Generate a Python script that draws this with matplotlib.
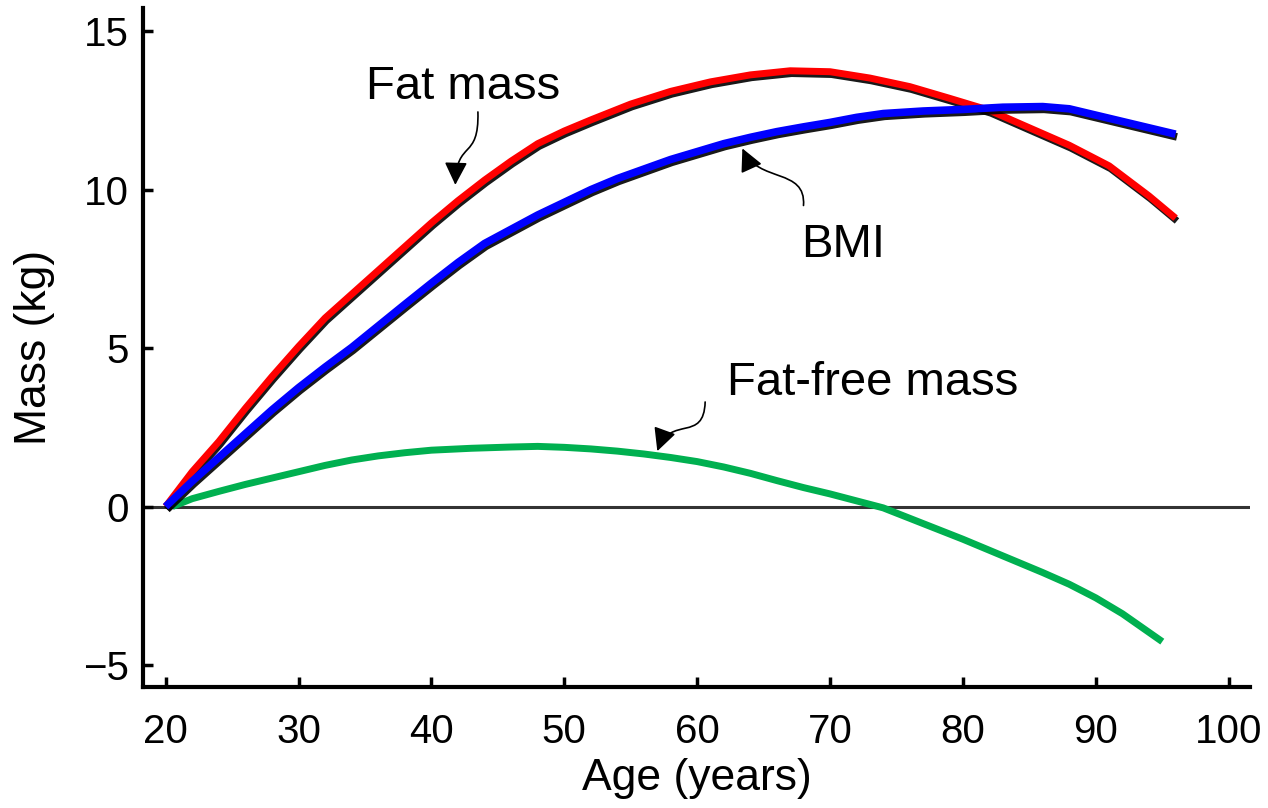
import matplotlib
matplotlib.use("Agg")
import matplotlib.pyplot as plt
import matplotlib.patheffects as pe
from matplotlib.path import Path
from matplotlib.patches import FancyArrowPatch

plt.rcParams['font.family'] = ['Liberation Sans', 'DejaVu Sans']

# curves (age in years, change in mass in kg)
fat_age = [20, 22, 24, 26, 28, 30, 32, 34, 36, 38, 40, 42, 44, 46, 48, 50, 52, 55,
           58, 61, 64, 67, 70, 73, 76, 79, 82, 85, 88, 91, 94, 96]
fat_mass = [0, 1.1, 2.05, 3.1, 4.1, 5.05, 5.95, 6.7, 7.45, 8.2, 8.95, 9.65, 10.3,
            10.9, 11.45, 11.85, 12.2, 12.7, 13.1, 13.4, 13.62, 13.75, 13.72, 13.52,
            13.25, 12.88, 12.5, 11.95, 11.4, 10.75, 9.8, 9.1]

bmi_age = [20, 22, 24, 26, 28, 30, 32, 34, 36, 38, 40, 42, 44, 46, 48, 50, 52, 54,
           56, 58, 60, 62, 64, 66, 68, 70, 72, 74, 77, 80, 83, 86, 88, 90, 92, 94, 96]
bmi_mass = [0, 0.8, 1.55, 2.3, 3.05, 3.75, 4.4, 5.02, 5.7, 6.38, 7.05, 7.7, 8.3,
            8.75, 9.2, 9.6, 10.0, 10.35, 10.65, 10.95, 11.2, 11.45, 11.65, 11.83,
            11.98, 12.12, 12.28, 12.4, 12.48, 12.53, 12.6, 12.62, 12.55, 12.35,
            12.15, 11.95, 11.75]

ffm_age = [20.5, 22, 24, 26, 28, 30, 32, 34, 36, 38, 40, 43, 46, 48, 50, 52, 54,
           56, 58, 60, 62, 64, 66, 68, 70, 72, 74, 76, 78, 80, 82, 84, 86, 88, 90,
           92, 95]
ffm_mass = [0, 0.25, 0.48, 0.7, 0.9, 1.1, 1.3, 1.47, 1.6, 1.7, 1.78, 1.84, 1.88,
            1.9, 1.87, 1.82, 1.75, 1.66, 1.55, 1.42, 1.25, 1.05, 0.82, 0.6, 0.4,
            0.18, -0.04, -0.37, -0.7, -1.03, -1.38, -1.73, -2.08, -2.45, -2.88,
            -3.38, -4.26]

fig = plt.figure(figsize=(12.68, 8.08), dpi=100)
ax = fig.add_axes([0.1128, 0.1498, 0.873, 0.8399])

ax.axhline(0, color='#333333', lw=2.2, zorder=1)

shadow = [pe.SimpleLineShadow(offset=(1, -2), shadow_color='black', alpha=0.9), pe.Normal()]
line_kw = dict(solid_capstyle='butt', solid_joinstyle='round')
ax.plot(fat_age, fat_mass, color='#ff0000', lw=5, path_effects=shadow, zorder=3, **line_kw)
ax.plot(bmi_age, bmi_mass, color='#0000ff', lw=5.5, path_effects=shadow, zorder=4, **line_kw)
ax.plot(ffm_age, ffm_mass, color='#00b050', lw=5, zorder=3, **line_kw)

ax.set_xlim(18.3, 101.6)
ax.set_ylim(-5.69, 15.72)
ax.set_xticks([20, 30, 40, 50, 60, 70, 80, 90, 100])
ax.set_yticks([-5, 0, 5, 10, 15])

for side in ['top', 'right']:
    ax.spines[side].set_visible(False)
for side in ['left', 'bottom']:
    ax.spines[side].set_linewidth(3)
ax.tick_params(axis='both', direction='in', length=7, width=2.5, labelsize=29)
ax.tick_params(axis='x', pad=19)
ax.tick_params(axis='y', pad=10)

ax.set_xlabel('Age (years)', fontsize=32, labelpad=5)
ax.set_ylabel('Mass (kg)', fontsize=32, labelpad=20)

ann_size = 34
ax.text(42.35, 13.24, 'Fat mass', fontsize=ann_size, ha='center', va='center')
ax.text(71.0, 8.25, 'BMI', fontsize=ann_size, ha='center', va='center')
ax.text(73.2, 3.9, 'Fat-free mass', fontsize=ann_size, ha='center', va='center')


def curly_arrow(p0, c1, c2, p1):
    path = Path([p0, c1, c2, p1], [Path.MOVETO, Path.CURVE4, Path.CURVE4, Path.CURVE4])
    arr = FancyArrowPatch(path=path, arrowstyle='-|>,head_length=0.7,head_width=0.35',
                          mutation_scale=20, color='black', lw=1.2, zorder=5)
    arr.set_transform(ax.transData)
    ax.add_patch(arr)


curly_arrow((43.5, 12.45), (43.6, 10.9), (41.9, 11.6), (41.8, 10.15))
curly_arrow((68.0, 9.5), (68.2, 10.7), (64.6, 10.2), (63.4, 11.3))
curly_arrow((60.6, 3.3), (60.5, 2.0), (58.0, 2.9), (57.0, 1.75))

fig.savefig('out.png', dpi=100)
